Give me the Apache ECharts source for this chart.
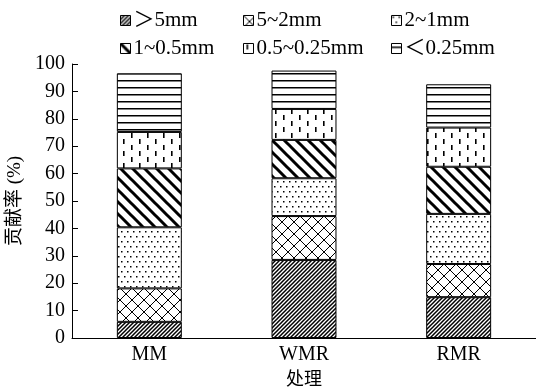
<!DOCTYPE html>
<html>
<head>
    <meta charset="utf-8"/>
    <title>贡献率</title>
    <script src="https://cdn.jsdelivr.net/npm/echarts@6/dist/echarts.min.js"></script>
    <style>
        html, body { margin: 0; padding: 0; background: #fff; }
        #chart { width: 536px; height: 389px; }
    </style>
</head>
<body>
<div id="chart"></div>
<script>
    // 数据
    var categories = ['MM', 'WMR', 'RMR'];
    var sizeNames = ['＞5mm', '5~2mm', '2~1mm', '1~0.5mm', '0.5~0.25mm', '＜0.25mm'];
    var gt5 = [5.9, 28.5, 14.9];
    var s5to2 = [12.2, 16.0, 12.1];
    var s2to1 = [22.3, 13.8, 18.3];
    var s1to05 = [21.5, 14.0, 17.2];
    var s05to025 = [13.3, 11.3, 14.3];
    var lt025 = [21.4, 14.0, 15.8];
    var yTicks = [0, 10, 20, 30, 40, 50, 60, 70, 80, 90, 100];

    var font = '"Liberation Serif", "Noto Sans CJK SC", serif';

    // 填充纹理
    function tile(w, h, draw) {
        var c = document.createElement('canvas');
        c.width = w;
        c.height = h;
        var ctx = c.getContext('2d');
        ctx.fillStyle = '#fff';
        ctx.fillRect(0, 0, w, h);
        ctx.strokeStyle = '#000';
        ctx.fillStyle = '#000';
        draw(ctx);
        return {image: c, repeat: 'repeat'};
    }

    var patterns = [
        // ////
        tile(4, 4, function (ctx) {
            ctx.lineWidth = 1.5;
            ctx.beginPath();
            ctx.moveTo(-1, 5); ctx.lineTo(5, -1);
            ctx.moveTo(-1, 1); ctx.lineTo(1, -1);
            ctx.moveTo(3, 5); ctx.lineTo(5, 3);
            ctx.stroke();
        }),
        // 网格
        tile(12, 12, function (ctx) {
            ctx.lineWidth = 1;
            ctx.beginPath();
            ctx.moveTo(0, 0); ctx.lineTo(12, 12);
            ctx.moveTo(12, 0); ctx.lineTo(0, 12);
            ctx.stroke();
        }),
        // 点
        tile(6, 10, function (ctx) {
            ctx.fillRect(1, 1, 1.5, 1.5);
            ctx.fillRect(4, 6, 1.5, 1.5);
        }),
        // 粗 \\\\
        tile(12, 12, function (ctx) {
            ctx.lineWidth = 3;
            ctx.beginPath();
            ctx.moveTo(-2, -2); ctx.lineTo(14, 14);
            ctx.moveTo(10, -2); ctx.lineTo(14, 2);
            ctx.moveTo(-2, 10); ctx.lineTo(2, 14);
            ctx.stroke();
        }),
        // 竖短线
        tile(16, 12, function (ctx) {
            ctx.fillRect(3, 1, 1.6, 5);
            ctx.fillRect(11, 7, 1.6, 5);
        }),
        // 横线
        tile(8, 7, function (ctx) {
            ctx.fillRect(0, 3, 8, 1.5);
        })
    ];

    var seriesData = [gt5, s5to2, s2to1, s1to05, s05to025, lt025];

    var series = sizeNames.map(function (name, i) {
        return {
            name: name,
            type: 'bar',
            stack: 'total',
            barWidth: '42%',
            itemStyle: {color: patterns[i], borderColor: '#000', borderWidth: 1},
            emphasis: {disabled: true},
            data: seriesData[i]
        };
    });

    // 图例 3 列 2 行
    var legendX = [115, 238, 386];
    var legendY = [5, 33];
    var legends = sizeNames.map(function (name, i) {
        return {
            data: [{name: name, icon: 'rect'}],
            left: legendX[i % 3],
            top: legendY[Math.floor(i / 3)],
            itemWidth: 10,
            itemHeight: 10,
            itemGap: 4,
            itemStyle: {borderColor: '#000', borderWidth: 1},
            textStyle: {fontFamily: font, fontSize: 21, color: '#000', padding: [0, 0, 0, -2]},
            selectedMode: false
        };
    });

    var chart = echarts.init(document.getElementById('chart'));
    chart.setOption({
        animation: false,
        legend: legends,
        grid: {left: 72, right: 0, top: 64, bottom: 51, outerBoundsMode: 'none'},
        xAxis: {
            type: 'category',
            data: categories,
            name: '处理',
            nameLocation: 'middle',
            nameGap: 33,
            nameTextStyle: {fontFamily: font, fontSize: 18, color: '#000'},
            axisLine: {lineStyle: {color: '#000', width: 1}},
            axisTick: {inside: true, length: 6, lineStyle: {color: '#000'}},
            axisLabel: {fontFamily: font, fontSize: 20, color: '#000', margin: 7}
        },
        yAxis: {
            type: 'value',
            min: yTicks[0],
            max: yTicks[yTicks.length - 1],
            interval: 10,
            name: '贡献率 (%)',
            nameLocation: 'middle',
            nameGap: 41,
            nameTextStyle: {fontFamily: font, fontSize: 19, color: '#000'},
            splitLine: {show: false},
            axisLine: {show: true, lineStyle: {color: '#000', width: 1}},
            axisTick: {show: true, inside: true, length: 6, lineStyle: {color: '#000'}},
            axisLabel: {fontFamily: font, fontSize: 20, color: '#000', margin: 7}
        },
        series: series
    });
</script>
</body>
</html>
